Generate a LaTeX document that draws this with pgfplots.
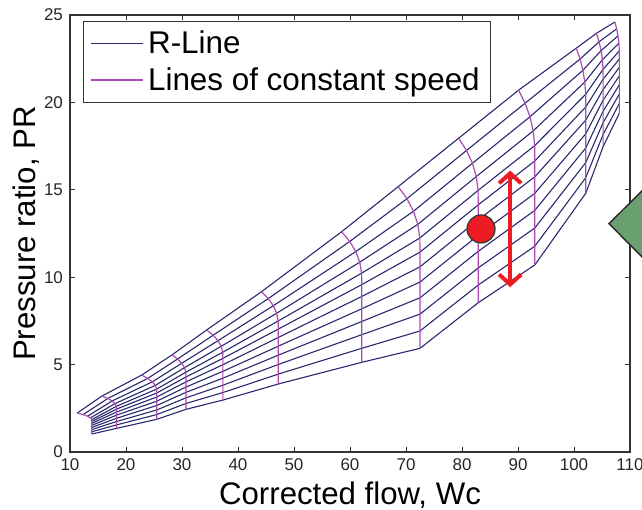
\documentclass[border=0pt]{standalone}
\usepackage{pgfplots}
\pgfplotsset{compat=1.18}
\usepackage{fontspec}
\setmainfont{Liberation Sans}
\usetikzlibrary{arrows.meta}
\definecolor{rline}{RGB}{40,40,110}
\definecolor{sline}{RGB}{170,75,180}
\definecolor{mred}{RGB}{237,28,36}
\definecolor{mgreen}{RGB}{106,160,112}
\begin{document}
\begin{tikzpicture}
\begin{axis}[
  scale only axis, width=280pt, height=218.5pt,
  xmin=10, xmax=110, ymin=0, ymax=25,
  xtick={10,20,...,110}, ytick={0,5,...,25},
  clip=false,
  axis line style={draw=black!80, line width=0.65pt},
  every tick/.style={black!80, line width=0.5pt},
  major tick length=2.5pt,
  tick label style={font=\fontsize{8.5}{10}\selectfont, text=black!85},
  /pgf/number format/assume math mode=true,
  xlabel={Corrected flow, Wc}, ylabel={Pressure ratio, PR},
  label style={font=\fontsize{15.6}{18}\selectfont},
  xlabel style={at={(axis description cs:0.5,-0.0984)}, anchor=center},
  ylabel style={at={(axis description cs:-0.0786,0.5)}, anchor=center},
  legend style={at={(axis description cs:0.0232,0.986)}, anchor=north west,
    draw=black!80, line width=0.5pt, font=\fontsize{15.7}{18}\selectfont,
    inner xsep=3.5pt, inner ysep=2.5pt, row sep=1.5pt, cells={anchor=west}},
  legend image code/.code={\draw[#1, line width=0.8pt] (0pt,0pt) -- (26pt,0pt);},
  rl/.style={rline, line width=0.55pt},
  sl/.style={sline, line width=0.6pt},
]
% R-lines
\addplot[rl] coordinates {(13.9,1.03) (18.3,1.35) (25.5,1.87) (30.7,2.44) (37.3,2.97) (47.2,3.89) (62.1,5.13) (72.5,5.93) (82.9,8.54) (93.0,10.7) (102.1,14.8) (105.2,17.47) (108.1,19.38)};
\addlegendentry{R-Line}
\addplot[rl,forget plot] coordinates {(13.9,1.159) (18.3,1.549) (25.5,2.142) (30.7,2.774) (37.3,3.401) (47.2,4.457) (62.1,5.932) (72.5,6.924) (82.9,9.551) (93.0,11.774) (102.1,15.691) (105.2,18.166) (108.1,19.941)};
\addplot[rl,forget plot] coordinates {(13.9,1.284) (18.3,1.741) (25.5,2.405) (30.7,3.098) (37.3,3.819) (47.2,5.007) (62.1,6.711) (72.5,7.887) (82.9,10.531) (93.0,12.816) (102.1,16.556) (105.2,18.841) (108.1,20.485)};
\addplot[rl,forget plot] coordinates {(13.9,1.405) (18.3,1.928) (25.5,2.660) (30.7,3.412) (37.3,4.223) (47.2,5.540) (62.1,7.464) (72.5,8.820) (82.9,11.480) (93.0,13.824) (102.1,17.393) (105.2,19.494) (108.1,21.011)};
\addplot[rl,forget plot] coordinates {(13.9,1.522) (18.3,2.108) (25.5,2.907) (30.7,3.715) (37.3,4.614) (47.2,6.054) (62.1,8.192) (72.5,9.722) (82.9,12.397) (93.0,14.799) (102.1,18.202) (105.2,20.126) (108.1,21.520)};
\addplot[rl,forget plot] coordinates {(13.9,1.635) (18.3,2.283) (25.5,3.145) (30.7,4.008) (37.3,4.991) (47.2,6.552) (62.1,8.896) (72.5,10.593) (82.9,13.284) (93.0,15.741) (102.1,18.984) (105.2,20.737) (108.1,22.011)};
\addplot[rl,forget plot] coordinates {(13.9,1.744) (18.3,2.451) (25.5,3.375) (30.7,4.291) (37.3,5.356) (47.2,7.032) (62.1,9.575) (72.5,11.434) (82.9,14.139) (93.0,16.650) (102.1,19.739) (105.2,21.326) (108.1,22.486)};
\addplot[rl,forget plot] coordinates {(13.88,1.849) (18.28,2.613) (25.48,3.597) (30.68,4.563) (37.28,5.707) (47.18,7.494) (62.07,10.229) (72.47,12.244) (82.87,14.963) (92.98,17.526) (102.09,20.466) (105.19,21.893) (108.09,22.943)};
\addplot[rl,forget plot] coordinates {(13.64,1.950) (18.04,2.769) (25.23,3.810) (30.45,4.825) (37.01,6.045) (46.90,7.939) (61.74,10.859) (72.11,13.024) (82.55,15.757) (92.71,18.369) (101.93,21.165) (105.08,22.440) (108.02,23.383)};
\addplot[rl,forget plot] coordinates {(13.13,2.047) (17.53,2.919) (24.70,4.015) (29.96,5.077) (36.44,6.370) (46.31,8.367) (61.03,11.464) (71.34,13.773) (81.86,16.519) (92.14,19.179) (101.59,21.838) (104.84,22.964) (107.86,23.806)};
\addplot[rl,forget plot] coordinates {(12.35,2.141) (16.75,3.062) (23.89,4.212) (29.21,5.319) (35.57,6.682) (45.41,8.777) (59.95,12.044) (70.17,14.492) (80.81,17.250) (91.27,19.956) (101.09,22.483) (104.48,23.468) (107.62,24.212)};
\addplot[rl,forget plot] coordinates {(11.3,2.23) (15.7,3.2) (22.8,4.40) (28.2,5.55) (34.4,6.98) (44.2,9.17) (58.5,12.60) (68.6,15.18) (79.4,17.95) (90.1,20.7) (100.4,23.1) (104.0,23.95) (107.3,24.60)};
% speed lines
\addplot[sl] coordinates {(13.9,1.03) (13.9,1.159) (13.9,1.284) (13.9,1.405) (13.9,1.522) (13.9,1.635) (13.9,1.744) (13.88,1.849) (13.64,1.950) (13.13,2.047) (12.35,2.141) (11.3,2.23)};
\addlegendentry{Lines of constant speed}
\addplot[sl,forget plot] coordinates {(18.3,1.35) (18.3,1.549) (18.3,1.741) (18.3,1.928) (18.3,2.108) (18.3,2.283) (18.3,2.451) (18.28,2.613) (18.04,2.769) (17.53,2.919) (16.75,3.062) (15.7,3.2)};
\addplot[sl,forget plot] coordinates {(25.5,1.87) (25.5,2.142) (25.5,2.405) (25.5,2.660) (25.5,2.907) (25.5,3.145) (25.5,3.375) (25.48,3.597) (25.23,3.810) (24.70,4.015) (23.89,4.212) (22.8,4.40)};
\addplot[sl,forget plot] coordinates {(30.7,2.44) (30.7,2.774) (30.7,3.098) (30.7,3.412) (30.7,3.715) (30.7,4.008) (30.7,4.291) (30.68,4.563) (30.45,4.825) (29.96,5.077) (29.21,5.319) (28.2,5.55)};
\addplot[sl,forget plot] coordinates {(37.3,2.97) (37.3,3.401) (37.3,3.819) (37.3,4.223) (37.3,4.614) (37.3,4.991) (37.3,5.356) (37.28,5.707) (37.01,6.045) (36.44,6.370) (35.57,6.682) (34.4,6.98)};
\addplot[sl,forget plot] coordinates {(47.2,3.89) (47.2,4.457) (47.2,5.007) (47.2,5.540) (47.2,6.054) (47.2,6.552) (47.2,7.032) (47.18,7.494) (46.90,7.939) (46.31,8.367) (45.41,8.777) (44.2,9.17)};
\addplot[sl,forget plot] coordinates {(62.1,5.13) (62.1,5.932) (62.1,6.711) (62.1,7.464) (62.1,8.192) (62.1,8.896) (62.1,9.575) (62.07,10.229) (61.74,10.859) (61.03,11.464) (59.95,12.044) (58.5,12.60)};
\addplot[sl,forget plot] coordinates {(72.5,5.93) (72.5,6.924) (72.5,7.887) (72.5,8.820) (72.5,9.722) (72.5,10.593) (72.5,11.434) (72.47,12.244) (72.11,13.024) (71.34,13.773) (70.17,14.492) (68.6,15.18)};
\addplot[sl,forget plot] coordinates {(82.9,8.54) (82.9,9.551) (82.9,10.531) (82.9,11.480) (82.9,12.397) (82.9,13.284) (82.9,14.139) (82.87,14.963) (82.55,15.757) (81.86,16.519) (80.81,17.250) (79.4,17.95)};
\addplot[sl,forget plot] coordinates {(93.0,10.7) (93.0,11.774) (93.0,12.816) (93.0,13.824) (93.0,14.799) (93.0,15.741) (93.0,16.650) (92.98,17.526) (92.71,18.369) (92.14,19.179) (91.27,19.956) (90.1,20.7)};
\addplot[sl,forget plot] coordinates {(102.1,14.8) (102.1,15.691) (102.1,16.556) (102.1,17.393) (102.1,18.202) (102.1,18.984) (102.1,19.739) (102.09,20.466) (101.93,21.165) (101.59,21.838) (101.09,22.483) (100.4,23.1)};
\addplot[sl,forget plot] coordinates {(105.2,17.47) (105.2,18.166) (105.2,18.841) (105.2,19.494) (105.2,20.126) (105.2,20.737) (105.2,21.326) (105.19,21.893) (105.08,22.440) (104.84,22.964) (104.48,23.468) (104.0,23.95)};
\addplot[sl,forget plot] coordinates {(108.1,19.38) (108.1,19.941) (108.1,20.485) (108.1,21.011) (108.1,21.520) (108.1,22.011) (108.1,22.486) (108.09,22.943) (108.02,23.383) (107.86,23.806) (107.62,24.212) (107.3,24.60)};
% annotations
\addplot[forget plot, mred, line width=2pt, {Straight Barb[length=5pt,width=11pt]}-{Straight Barb[length=5pt,width=11pt]}] coordinates {(88.6,9.43) (88.6,16.1)};
\addplot[forget plot, only marks, mark=*, mark size=7pt, mark options={fill=mred, draw=black!80, line width=0.6pt}] coordinates {(83.4,12.76)};
\addplot[forget plot, fill=mgreen, draw=black!85, line width=0.7pt] coordinates {(106.25,13.06) (116.96,16.48) (127.68,13.06) (116.96,9.61)} -- cycle;
\coordinate (bbsw) at (axis cs:-2.5,-3.318);
\coordinate (bbne) at (axis cs:112.143,25.858);
\end{axis}
\pgfresetboundingbox
\useasboundingbox (bbsw) rectangle (bbne);
\end{tikzpicture}
\end{document}
